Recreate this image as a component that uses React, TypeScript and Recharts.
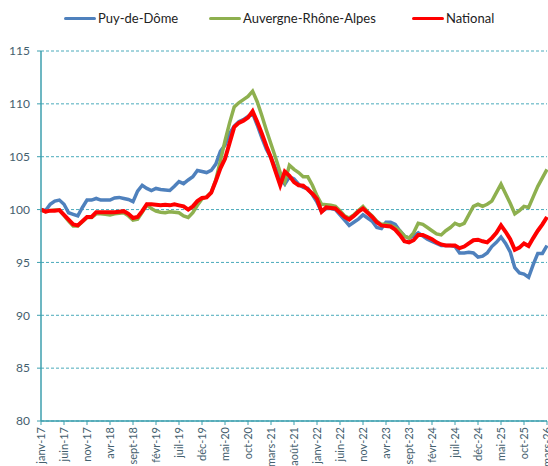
import React from 'react'
import { LineChart, Line, XAxis, YAxis, CartesianGrid } from 'recharts'

const MONTHS = ['janv', 'févr', 'mars', 'avr', 'mai', 'juin', 'juil', 'août', 'sept', 'oct', 'nov', 'déc']
const START_YEAR = 17

const Y_TICKS = [80, 85, 90, 95, 100, 105, 110, 115]

// Puy-de-Dôme, janv-17 -> mars-26
const PUY = [
  100.0, 99.9, 100.5, 100.8, 100.9, 100.5, 99.7, 99.55, 99.4, 100.2, 100.9, 100.9,
  101.05, 100.9, 100.9, 100.9, 101.1, 101.15, 101.05, 100.95, 100.75, 101.75, 102.3, 102.0,
  101.8, 102.0, 101.9, 101.85, 101.8, 102.2, 102.65, 102.45, 102.8, 103.1, 103.7, 103.6,
  103.5, 103.7, 104.3, 105.5, 106.1, 107.2, 107.9, 108.3, 108.5, 108.8, 109.1, 108.0,
  106.8, 105.7, 104.9, 103.9, 103.0, 102.4, 103.1, 102.9, 102.4, 102.1, 102.0, 101.4,
  100.7, 99.8, 100.1, 100.1, 100.0, 99.5, 99.0, 98.5, 98.8, 99.1, 99.5, 99.2,
  98.9, 98.3, 98.2, 98.8, 98.8, 98.6, 98.0, 97.5, 97.3, 97.5, 97.8, 97.5,
  97.2, 97.0, 96.8, 96.6, 96.6, 96.6, 96.5, 95.9, 95.9, 95.95, 95.9, 95.5,
  95.6, 95.9, 96.5, 96.9, 97.4, 96.8, 96.0, 94.5, 94.0, 93.9, 93.6, 94.8,
  95.85, 95.85, 96.6,
]

// Auvergne-Rhône-Alpes
const ARA = [
  100.0, 99.8, 99.9, 99.95, 99.95, 99.45, 98.9, 98.45, 98.45, 98.85, 99.25, 99.25,
  99.6, 99.6, 99.55, 99.5, 99.6, 99.65, 99.7, 99.4, 99.0, 99.1, 99.75, 100.45,
  100.1, 99.85, 99.75, 99.7, 99.8, 99.75, 99.7, 99.4, 99.25, 99.7, 100.4, 101.0,
  101.2, 101.6, 102.8, 104.6, 106.5, 108.2, 109.7, 110.1, 110.4, 110.7, 111.2, 110.2,
  108.9, 107.5, 106.2, 104.9, 103.5, 102.6, 104.2, 103.8, 103.5, 103.1, 103.1, 102.3,
  101.3, 100.5, 100.45, 100.4, 100.3, 99.9, 99.4, 99.2, 99.5, 99.9, 100.3, 99.8,
  99.4, 98.9, 98.6, 98.6, 98.5, 98.3, 98.0, 97.5, 97.3, 97.8, 98.7, 98.6,
  98.3, 98.0, 97.7, 97.6, 98.0, 98.3, 98.7, 98.5, 98.7, 99.5, 100.3, 100.5,
  100.3, 100.5, 100.8, 101.6, 102.4, 101.5, 100.6, 99.6, 99.9, 100.3, 100.2, 101.2,
  102.2, 103.0, 103.8,
]

// National
const NAT = [
  100.0, 99.8, 99.9, 99.9, 99.95, 99.5, 99.05, 98.6, 98.5, 98.9, 99.3, 99.3,
  99.75, 99.75, 99.75, 99.75, 99.75, 99.8, 99.85, 99.6, 99.2, 99.3, 99.85, 100.5,
  100.5, 100.45, 100.4, 100.45, 100.4, 100.5, 100.4, 100.3, 100.0, 100.3, 100.8, 101.1,
  101.15, 101.6, 102.7, 103.9, 104.8, 106.3, 107.8, 108.2, 108.4, 108.7, 109.3, 108.3,
  107.2, 106.0, 104.9, 103.6, 102.3, 103.6, 103.2, 102.6, 102.3, 102.25, 101.9, 101.5,
  101.0, 99.8, 100.2, 100.15, 100.1, 99.7, 99.3, 99.05, 99.4, 99.8, 100.1, 99.7,
  99.3, 98.8, 98.5, 98.45, 98.4, 98.1, 97.6, 97.0, 96.9, 97.1, 97.6, 97.6,
  97.4, 97.2, 96.9, 96.7, 96.6, 96.6, 96.6, 96.35, 96.5, 96.8, 97.1, 97.15,
  97.0, 96.9, 97.3, 97.8, 98.5, 97.9, 97.2, 96.2, 96.4, 96.8, 96.55, 97.3,
  98.0, 98.6, 99.3,
]

const LABELS = PUY.map((_, i) => `${MONTHS[i % 12]}-${START_YEAR + Math.floor(i / 12)}`)

const data = LABELS.map((label, i) => ({ label, puy: PUY[i], ara: ARA[i], nat: NAT[i] }))

const AXIS = '#3c9fae'
const GRID = '#4aaabb'
const TEXT = '#44606e'
const FONT = 'Lato, "Open Sans", sans-serif'

const series = [
  { key: 'puy', name: 'Puy-de-Dôme', color: '#4f81bd' },
  { key: 'ara', name: 'Auvergne-Rhône-Alpes', color: '#8eb04f' },
  { key: 'nat', name: 'National', color: '#ff0000' },
]

const XTick = ({ x, y, payload }: any) => (
  <text
    x={x}
    y={y}
    transform={`rotate(-90 ${x} ${y})`}
    textAnchor="end"
    dy="0.35em"
    fontSize={11}
    fontFamily={FONT}
    fill={TEXT}
  >
    {payload.value}
  </text>
)

function LegendBar() {
  const pos = [64, 209, 412]
  return (
    <>
      {series.map((s, i) => (
        <div
          key={s.key}
          style={{
            position: 'absolute',
            left: pos[i],
            top: 10,
            display: 'flex',
            alignItems: 'center',
            fontFamily: FONT,
            fontSize: 13,
            color: '#222',
            whiteSpace: 'nowrap',
          }}
        >
          <span style={{ display: 'inline-block', width: 32, height: 3, background: s.color, borderRadius: 2, marginRight: 2 }} />
          {s.name}
        </div>
      ))}
    </>
  )
}

export default function App() {
  return (
    <div style={{ position: 'absolute', left: 0, top: 0, width: 548, height: 466, overflow: 'hidden', background: '#fff' }}>
      <LegendBar />
      <LineChart width={548} height={466} data={data} margin={{ top: 51, right: 1, bottom: 0, left: 0 }}>
        <CartesianGrid vertical={false} stroke={GRID} strokeDasharray="3 2" />
        <XAxis
          dataKey="label"
          interval={4}
          height={45}
          tick={<XTick />}
          tickSize={4}
          tickMargin={2}
          stroke={AXIS}
          axisLine={{ stroke: AXIS, strokeWidth: 1.5 }}
          tickLine={{ stroke: AXIS }}
        />
        <YAxis
          domain={[80, 115]}
          ticks={Y_TICKS}
          width={41}
          tickSize={4}
          tickMargin={7}
          axisLine={{ stroke: AXIS, strokeWidth: 1.5 }}
          tickLine={{ stroke: AXIS }}
          tick={{ fontSize: 12, fontFamily: FONT, fill: TEXT }}
        />
        {series.map((s) => (
          <Line
            key={s.key}
            type="linear"
            dataKey={s.key}
            name={s.name}
            stroke={s.color}
            strokeWidth={s.key === 'nat' ? 4 : 3.5}
            dot={false}
            isAnimationActive={false}
          />
        ))}
      </LineChart>
    </div>
  )
}
